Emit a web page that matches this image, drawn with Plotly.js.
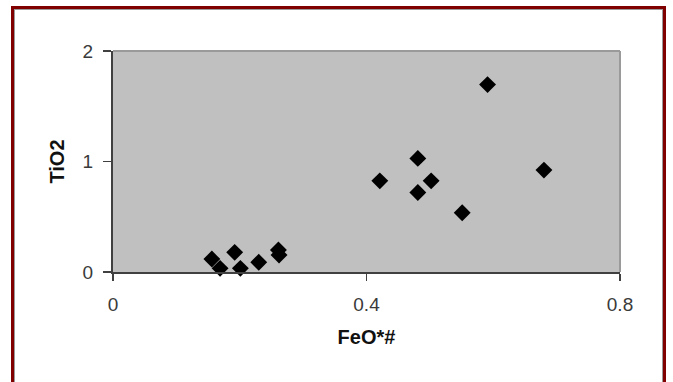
<!DOCTYPE html>
<html>
<head>
<meta charset="utf-8">
<script src="https://cdn.plot.ly/plotly-3.0.1.min.js"></script>
<style>
  html, body { margin: 0; padding: 0; background: #ffffff; overflow: hidden; }
  #chart { width: 673px; height: 382px; position: absolute; left: 0; top: 0; }
  #frame {
    position: absolute; left: 11px; top: 6px; width: 649px; height: 400px;
    border: 3px solid #800000; box-shadow: inset 0 0 0 1px #9a9a9a;
    pointer-events: none;
  }
</style>
</head>
<body>
<div id="chart"></div>
<div id="frame"></div>
<script>
const feo = [0.156, 0.169, 0.192, 0.201, 0.230, 0.261, 0.262, 0.421, 0.481, 0.481, 0.502, 0.551, 0.591, 0.680];
const tio2 = [0.117, 0.033, 0.178, 0.033, 0.088, 0.199, 0.154, 0.825, 1.028, 0.720, 0.825, 0.536, 1.696, 0.922];
const xTicks = [0, 0.4, 0.8];
const xTickText = ['0', '0.4', '0.8'];
const yTicks = [0, 1, 2];
const yTickText = ['0', '1', '2'];

const trace = {
  x: feo, y: tio2, type: 'scatter', mode: 'markers',
  marker: { symbol: 'diamond', size: 13, color: '#000000' },
  cliponaxis: false, hoverinfo: 'skip'
};

const layout = {
  width: 673, height: 382,
  margin: { l: 113, r: 53, t: 51, b: 110 },
  paper_bgcolor: '#ffffff',
  plot_bgcolor: '#c0c0c0',
  showlegend: false,
  font: { family: 'Liberation Sans, Arial, sans-serif', size: 19, color: '#3a3a3a' },
  xaxis: {
    range: [0, 0.8], tickvals: xTicks, ticktext: xTickText,
    showgrid: false, zeroline: false,
    showline: true, linecolor: '#404040', linewidth: 2,
    ticks: 'outside', ticklen: 7, tickcolor: '#404040', tickwidth: 1.5,
    ticklabelstandoff: 7,
    tickfont: { size: 19, color: '#3a3a3a' },
    title: { text: 'FeO*#', font: { size: 20, color: '#111111', weight: 'bold' }, standoff: 16 }
  },
  yaxis: {
    range: [0, 2], tickvals: yTicks, ticktext: yTickText,
    showgrid: false, zeroline: false,
    showline: true, linecolor: '#404040', linewidth: 2,
    ticks: 'outside', ticklen: 8, tickcolor: '#404040', tickwidth: 1.5,
    ticklabelstandoff: 6,
    tickfont: { size: 19, color: '#3a3a3a' },
    title: { text: 'TiO2', font: { size: 20, color: '#111111', weight: 'bold' }, standoff: 13 }
  },
  shapes: [
    { type: 'line', xref: 'paper', yref: 'paper', x0: 0, x1: 1, y0: 1, y1: 1, line: { color: '#9a9a9a', width: 2 } },
    { type: 'line', xref: 'paper', yref: 'paper', x0: 1, x1: 1, y0: 0, y1: 1, line: { color: '#9a9a9a', width: 2 } }
  ]
};

Plotly.newPlot('chart', [trace], layout, { displayModeBar: false, staticPlot: true });
</script>
</body>
</html>
